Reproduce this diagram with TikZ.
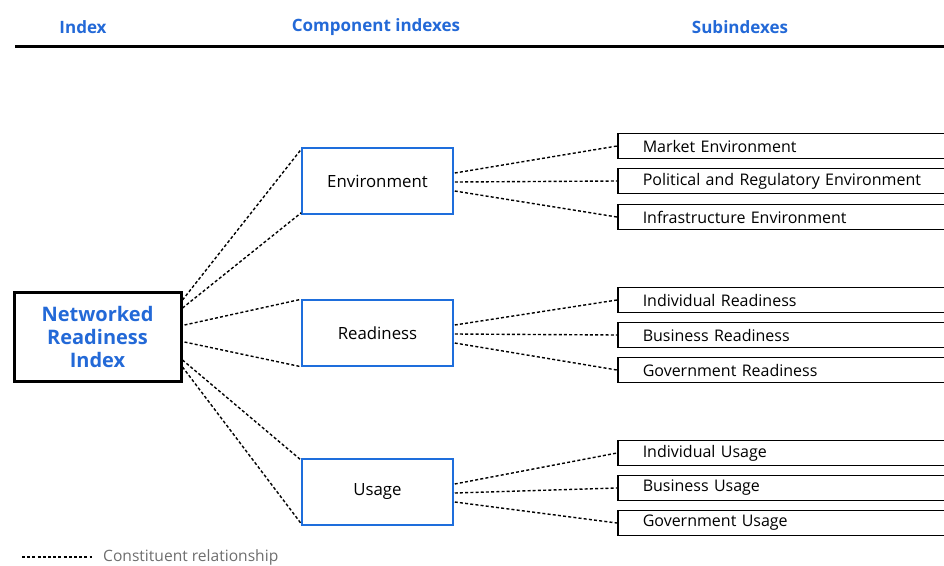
\documentclass[tikz,border=0pt]{standalone}
\usepackage{fontspec}
\setmainfont{Open Sans}
\usetikzlibrary{calc}
\definecolor{hblue}{RGB}{35,105,215}
\definecolor{bblue}{RGB}{30,110,220}
\definecolor{lgray}{RGB}{110,110,110}
\tikzset{
  conn/.style={line width=1.4pt, dash pattern=on 3pt off 2.2pt},
  head/.style={text=hblue, font=\fontsize{17}{19}\selectfont\bfseries, inner sep=0pt},
  comp/.style={draw=bblue, line width=1.5pt, minimum width=151pt, minimum height=66pt, font=\fontsize{16.8}{19}\selectfont, inner sep=0pt},
  sub/.style={draw=black, line width=1.5pt, anchor=west, minimum height=25pt, text width=320pt, inner xsep=25pt, inner ysep=0pt, align=left, font=\fontsize{16}{17}\selectfont},
  subtxt/.style={anchor=west, inner sep=0pt, font=\fontsize{16}{17}\selectfont},
}
\begin{document}
\begin{tikzpicture}[x=1pt,y=-1pt]
\useasboundingbox (0,0) rectangle (944,565);
\clip (0,0) rectangle (944,565);
% header
\node[head] (hidx) at (83,27) {Index};
\node[head] (hcomp) at (376,27) {Component indexes};
\node[head] (hsub) at (740,27) {Subindexes};
\coordinate (rl) at (15,46);
\coordinate (rr) at (950,46);
\draw[line width=3pt] (rl) -- (rr);
% main index
\node[draw=black, line width=3pt, minimum width=167pt, minimum height=89pt, text=hblue, align=center,
  font=\fontsize{20}{23}\selectfont\bfseries, inner sep=0pt] (nri) at (97.5,336.5) {Networked\\Readiness\\Index};
% components
\node[comp] (env) at (377.5,181) {Environment};
\node[comp] (rea) at (377.5,333) {Readiness};
\node[comp] (usa) at (377.5,492) {Usage};
% subindexes
\node[sub] (me) at (617,146) {\raisebox{-1pt}{Market Environment}};
\node[sub] (pe) at (617,181) {\raisebox{-1pt}{Political and Regulatory Environment}};
\node[sub] (ie) at (617,217) {\raisebox{-1pt}{Infrastructure Environment}};
\node[sub] (ir) at (617,300) {\raisebox{-1pt}{Individual Readiness}};
\node[sub] (br) at (617,335) {\raisebox{-1pt}{Business Readiness}};
\node[sub] (gr) at (617,370) {\raisebox{-1pt}{Government Readiness}};
\node[sub] (iu) at (617,453) {\raisebox{-1pt}{Individual Usage}};
\node[sub] (bu) at (617,488) {\raisebox{-1pt}{Business Usage}};
\node[sub] (gu) at (617,523) {\raisebox{-1pt}{Government Usage}};
% connectors index -> components
\draw[conn] ([yshift=36.5pt]nri.east) -- ([yshift=-2pt]env.north west);
\draw[conn] ([yshift=28.5pt]nri.east) -- ([yshift=2pt]env.south west);
\draw[conn] ([xshift=2pt,yshift=11.5pt]nri.east) -- (rea.north west);
\draw[conn] ([xshift=2pt,yshift=-5.5pt]nri.east) -- (rea.south west);
\draw[conn] ([yshift=-23.5pt]nri.east) -- ([yshift=-2pt]usa.north west);
\draw[conn] ([yshift=-30.5pt]nri.east) -- ([yshift=2pt]usa.south west);
% connectors components -> subindexes
\foreach \c/\a/\b/\d in {env/me/pe/ie, rea/ir/br/gr, usa/iu/bu/gu}{
  \draw[conn] ([xshift=1pt,yshift=8pt]\c.east) -- (\a.west);
  \draw[conn] ([xshift=1pt,yshift=-1pt]\c.east) -- (\b.west);
  \draw[conn] ([xshift=1pt,yshift=-10pt]\c.east) -- (\d.west);
}
% legend
\coordinate (la) at (22,557);
\coordinate (lb) at (92,557);
\draw[conn, line width=1.2pt] (la) -- (lb);
\node[anchor=west, text=lgray, font=\fontsize{15.6}{17}\selectfont, inner sep=0pt] (leg) at (103,557) {Constituent relationship};
\end{tikzpicture}
\end{document}
